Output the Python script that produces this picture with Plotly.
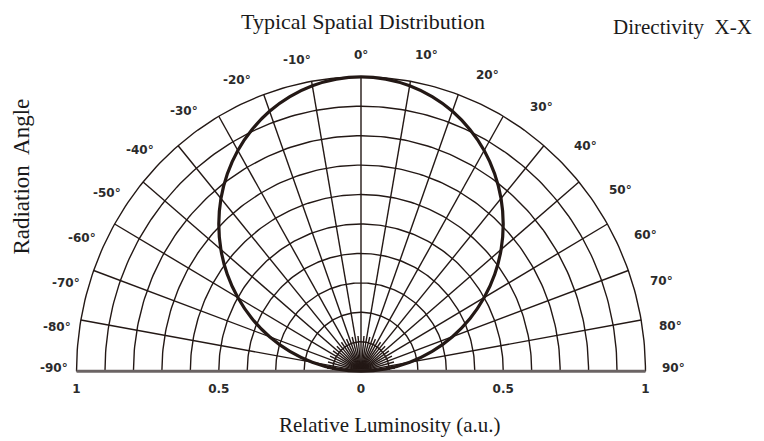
import numpy as np
import plotly.graph_objects as go

# radiation pattern (angle in degrees, relative luminosity)
curve_angles = [-90, -85, -80, -75, -70, -65, -60, -55, -50, -45, -40, -35, -30, -25, -20, -15, -10, -5,
                0, 5, 10, 15, 20, 25, 30, 35, 40, 45, 50, 55, 60, 65, 70, 75, 80, 85, 90]
curve_values = [0.0, 0.087, 0.174, 0.259, 0.342, 0.423, 0.50, 0.574, 0.643, 0.707, 0.766, 0.819, 0.866,
                0.906, 0.940, 0.966, 0.985, 0.996, 1.0, 0.996, 0.985, 0.966, 0.940, 0.906, 0.866, 0.819,
                0.766, 0.707, 0.643, 0.574, 0.50, 0.423, 0.342, 0.259, 0.174, 0.087, 0.0]

ring_values = [0.1, 0.2, 0.3, 0.4, 0.5, 0.6, 0.7, 0.8, 0.9, 1.0]
spoke_angles = [-90, -80, -70, -60, -50, -40, -30, -20, -10, 0, 10, 20, 30, 40, 50, 60, 70, 80, 90]
fine_spoke_angles = [-85, -75, -65, -55, -45, -35, -25, -15, -5, 5, 15, 25, 35, 45, 55, 65, 75, 85]
x_tickvals = [-1, -0.5, 0, 0.5, 1]
x_ticktext = ["1", "0.5", "0", "0.5", "1"]

INK = "#231815"
XR = [-1.03, 1.03]
YR = [-0.03, 1.03]


def to_xy(theta_deg, r):
    t = np.radians(np.asarray(theta_deg, dtype=float))
    r = np.asarray(r, dtype=float)
    return r * np.sin(t), r * np.cos(t)


def to_paper(x, y):
    return (x - XR[0]) / (XR[1] - XR[0]), (y - YR[0]) / (YR[1] - YR[0])


# grid lines: rings and spokes
gx, gy = [], []
arc = np.linspace(-90, 90, 181)
for rv in ring_values:
    x, y = to_xy(arc, np.full_like(arc, rv))
    gx += list(x) + [None]
    gy += list(y) + [None]
for a in spoke_angles:
    x, y = to_xy([a, a], [0, 1])
    gx += list(x) + [None]
    gy += list(y) + [None]
for a in fine_spoke_angles:
    x, y = to_xy([a, a], [0, 0.12])
    gx += list(x) + [None]
    gy += list(y) + [None]

fig = go.Figure()

fig.add_trace(go.Scatter(
    x=gx, y=gy, mode="lines",
    line=dict(color=INK, width=1.4),
    hoverinfo="skip"
))

fig.add_trace(go.Scatter(
    x=[-1, 1], y=[0, 0], mode="lines",
    line=dict(color="#6b6464", width=3),
    hoverinfo="skip"
))

cx, cy = to_xy(curve_angles, curve_values)
fig.add_trace(go.Scatter(
    x=cx, y=cy, mode="lines",
    line=dict(color=INK, width=3.2, shape="spline"),
    name="Directivity X-X"
))

# angle labels round the outer arc (pushed a little clockwise, as in the original)
label_font = dict(family="DejaVu Sans", size=12, color="#2b2b2b", weight="bold")
for a in spoke_angles:
    if a == 0:
        lx, ly = 0.0, 1.075
    else:
        phi = a + np.sign(a) * 6 * np.sin(np.radians(2 * abs(a)))
        r_lab = 1.1 if a > 0 else 1.08
        lx, ly = to_xy(phi, r_lab)
    px, py = to_paper(float(lx), max(float(ly), 0.01))
    fig.add_annotation(x=px, y=py, xref="paper", yref="paper", text=f"{a}°",
                       showarrow=False, xanchor="center", yanchor="middle", font=label_font)

serif = dict(family="Liberation Serif", size=21, color="#1a1a1a")

fig.add_annotation(x=1.049, y=1.131, xref="paper", yref="paper",
                   text="Directivity  X-X", showarrow=False,
                   xanchor="center", yanchor="middle", font=serif)
fig.add_annotation(x=-0.079, y=0.651, xref="paper", yref="paper",
                   text="Radiation  Angle", textangle=-90, showarrow=False,
                   xanchor="center", yanchor="middle", font=dict(serif, size=23))
fig.add_annotation(x=0.55, y=-0.144, xref="paper", yref="paper",
                   text="Relative Luminosity (a.u.)", showarrow=False,
                   xanchor="center", yanchor="middle", font=serif)
fig.add_annotation(x=0.504, y=1.15, xref="paper", yref="paper",
                   text="Typical Spatial Distribution", showarrow=False,
                   xanchor="center", yanchor="middle", font=dict(serif, size=22))

fig.update_layout(
    width=764, height=441,
    margin=dict(l=60, r=118, t=60, b=69),
    plot_bgcolor="white", paper_bgcolor="white",
    showlegend=False,
    xaxis=dict(range=XR, tickvals=x_tickvals, ticktext=x_ticktext,
               showgrid=False, zeroline=False, showline=False,
               tickfont=dict(family="DejaVu Sans", size=12, color="#2b2b2b", weight="bold")),
    yaxis=dict(range=YR, showgrid=False, zeroline=False,
               showline=False, showticklabels=False),
)

fig.write_html("out.html")
